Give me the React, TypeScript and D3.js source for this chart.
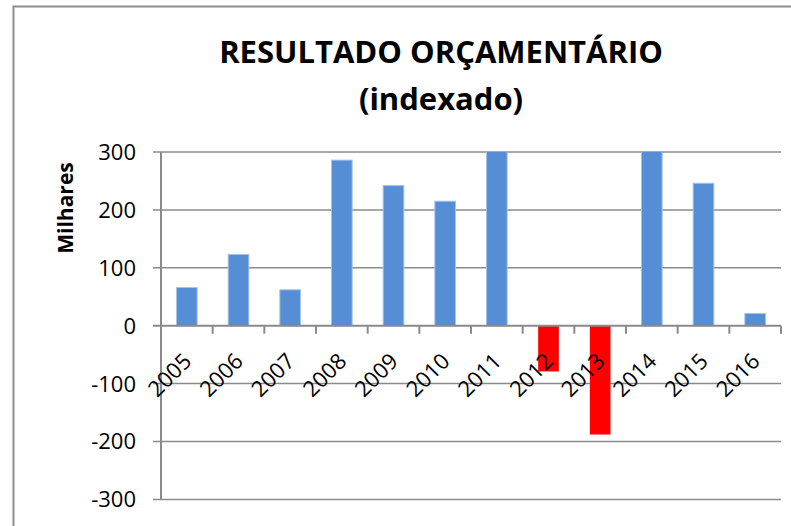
import React, { useEffect, useRef } from "react";
import * as d3 from "d3";

// Dados (milhares)
const years = ["2005", "2006", "2007", "2008", "2009", "2010", "2011", "2012", "2013", "2014", "2015", "2016"];
const values = [66, 123, 62, 286, 242, 215, 330, -79, -188, 320, 246, 21];
const yTicks = [-300, -200, -100, 0, 100, 200, 300];

const App: React.FC = () => {
  const svgRef = useRef<SVGSVGElement | null>(null);

  useEffect(() => {
    if (!svgRef.current) return;
    const width = 791;
    const height = 526;
    const plot = { left: 161, right: 781, top: 152, bottom: 499.4 };
    const font = "'Open Sans', Lato, sans-serif";

    const svg = d3.select(svgRef.current).attr("width", width).attr("height", height);
    svg.selectAll("*").remove();

    svg.append("rect").attr("width", width).attr("height", height).attr("fill", "#fff");

    // Moldura do gráfico
    svg
      .append("rect")
      .attr("x", 13.5)
      .attr("y", 6.5)
      .attr("width", 800)
      .attr("height", 540)
      .attr("fill", "none")
      .attr("stroke", "#8c8c8c")
      .attr("stroke-width", 2);

    const x = d3
      .scaleBand<string>()
      .domain(years)
      .range([plot.left, plot.right])
      .paddingInner(0.6)
      .paddingOuter(0.3);

    const y = d3.scaleLinear().domain([-300, 300]).range([plot.bottom, plot.top]);

    // Grelha horizontal
    svg
      .append("g")
      .selectAll("line")
      .data(yTicks.filter((d) => d !== 0))
      .enter()
      .append("line")
      .attr("x1", plot.left - 8)
      .attr("x2", plot.right)
      .attr("y1", (d) => y(d))
      .attr("y2", (d) => y(d))
      .attr("stroke", "#8a8a8a")
      .attr("stroke-width", 1.5);

    // Barras (recortadas na área do gráfico)
    svg
      .append("defs")
      .append("clipPath")
      .attr("id", "plot-clip")
      .append("rect")
      .attr("x", plot.left)
      .attr("y", plot.top)
      .attr("width", plot.right - plot.left)
      .attr("height", plot.bottom - plot.top);

    svg
      .append("g")
      .attr("clip-path", "url(#plot-clip)")
      .selectAll("rect")
      .data(values)
      .enter()
      .append("rect")
      .attr("x", (_, i) => x(years[i])!)
      .attr("y", (d) => y(Math.max(0, d)))
      .attr("width", x.bandwidth())
      .attr("height", (d) => Math.abs(y(d) - y(0)))
      .attr("fill", (d) => (d < 0 ? "#ff0000" : "#558ed5"))
      .attr("stroke", (d) => (d < 0 ? "none" : "#a5c2ea"))
      .attr("stroke-width", 1);

    // Eixo Y
    svg
      .append("line")
      .attr("x1", plot.left)
      .attr("x2", plot.left)
      .attr("y1", plot.top)
      .attr("y2", plot.bottom)
      .attr("stroke", "#8a8a8a")
      .attr("stroke-width", 2);

    // Eixo X (no zero)
    svg
      .append("line")
      .attr("x1", plot.left - 8)
      .attr("x2", plot.right)
      .attr("y1", y(0))
      .attr("y2", y(0))
      .attr("stroke", "#8a8a8a")
      .attr("stroke-width", 2);

    svg
      .append("g")
      .selectAll("line")
      .data(d3.range(years.length + 1))
      .enter()
      .append("line")
      .attr("x1", (i) => plot.left + i * x.step())
      .attr("x2", (i) => plot.left + i * x.step())
      .attr("y1", y(0))
      .attr("y2", y(0) + 8)
      .attr("stroke", "#8a8a8a")
      .attr("stroke-width", 2);

    // Rótulos Y
    svg
      .append("g")
      .selectAll("text")
      .data(yTicks)
      .enter()
      .append("text")
      .attr("x", 136)
      .attr("y", (d) => y(d))
      .attr("dy", "0.36em")
      .attr("text-anchor", "end")
      .style("font-family", font)
      .style("font-size", "22px")
      .style("fill", "#000")
      .text((d) => d);

    // Rótulos X (rodados)
    svg
      .append("g")
      .selectAll("text")
      .data(years)
      .enter()
      .append("text")
      .attr(
        "transform",
        (d) => `translate(${x(d)! + x.bandwidth() / 2 + 6}, ${y(0) + 37}) rotate(-45)`
      )
      .attr("text-anchor", "end")
      .style("font-family", font)
      .style("font-size", "22px")
      .style("fill", "#000")
      .text((d) => d);

    // Título do eixo Y
    svg
      .append("text")
      .attr("transform", "translate(73, 208) rotate(-90)")
      .attr("text-anchor", "middle")
      .style("font-family", font)
      .style("font-size", "21px")
      .style("font-weight", "bold")
      .style("fill", "#000")
      .text("Milhares");

    // Título
    const title = svg
      .append("text")
      .attr("text-anchor", "middle")
      .style("font-family", font)
      .style("font-size", "31px")
      .style("font-weight", "bold")
      .style("fill", "#000");
    title.append("tspan").attr("x", 441).attr("y", 63).text("RESULTADO ORÇAMENTÁRIO");
    title.append("tspan").attr("x", 441).attr("y", 110).text("(indexado)");
  }, []);

  return (
    <div style={{ position: "absolute", left: 0, top: 0 }}>
      <svg ref={svgRef}></svg>
    </div>
  );
};

export default App;
